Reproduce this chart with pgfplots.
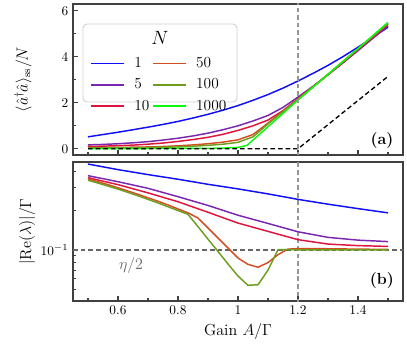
\documentclass[border=0pt]{standalone}
\usepackage{pgfplots}
\pgfplotsset{compat=1.18}
\definecolor{cA}{RGB}{15,15,250}
\definecolor{cB}{RGB}{122,38,176}
\definecolor{cC}{RGB}{222,20,62}
\definecolor{cD}{RGB}{212,78,36}
\definecolor{cE}{RGB}{108,158,30}
\definecolor{cF}{RGB}{10,250,10}
\definecolor{frame}{RGB}{64,64,64}
\definecolor{vline}{RGB}{150,150,150}
\pgfplotsset{
  myax/.style={
    scale only axis, width=247.5pt,
    xmin=0.45, xmax=1.55,
    axis line style={draw=frame, line width=1pt},
    tick align=inside, xtick pos=lower, ytick pos=left,
    xtick={0.6,0.8,1,1.2,1.4},
    minor xtick={0.5,0.7,0.9,1.1,1.3,1.5},
    major tick length=4pt, minor tick length=2.5pt,
    every tick/.style={frame, line width=0.8pt},
    tick label style={font=\fontsize{10.2}{12}\selectfont},
    label style={font=\fontsize{12}{14}\selectfont},
  }
}
\begin{document}
\begin{tikzpicture}
\draw[rounded corners=3pt, draw=black!18, fill=white, line width=0.7pt] (62.25pt,183pt) rectangle (177.75pt,241.5pt);
\node at (120pt,231pt) {\fontsize{14}{16}\selectfont $N$};
\begin{axis}[myax, height=113.25pt,
  at={(54.75pt,143.25pt)}, anchor=south west,
  ymin=-0.27, ymax=6.3,
  ytick={0,2,4,6}, minor ytick={1,3,5},
  xticklabels={},
  ylabel={$\langle\hat a^{\dagger}\hat a\rangle_{\mathrm{ss}}/N$},
  ylabel style={at={(axis description cs:-0.1515,0.5)}, anchor=center},
  legend columns=2, legend cell align=left,
  legend image code/.code={\draw[#1] (0pt,0pt) -- (24.75pt,0pt); \path (30pt,0pt);},
  legend style={at={(axis description cs:0.0394,0.683)}, anchor=north west,
    draw=none, fill=none, row sep=2.8pt,
    font=\fontsize{11.5}{13}\selectfont},
]
\addlegendimage{cA, line width=1.1pt}
\addlegendentry{1}
\addlegendimage{cD, line width=1.1pt}
\addlegendentry{50}
\addlegendimage{cB, line width=1.1pt}
\addlegendentry{5}
\addlegendimage{cE, line width=1.1pt}
\addlegendentry{100}
\addlegendimage{cC, line width=1.1pt}
\addlegendentry{10}
\addlegendimage{cF, line width=1.1pt}
\addlegendentry{1000}
\addplot[cA, line width=1.1pt, forget plot] coordinates {(0.5,0.52)(0.55,0.62)(0.6,0.72)(0.65,0.83)(0.7,0.94)(0.75,1.06)(0.8,1.19)(0.85,1.34)(0.9,1.5)(0.95,1.68)(1.0,1.88)(1.05,2.11)(1.1,2.36)(1.15,2.64)(1.2,2.95)(1.25,3.28)(1.3,3.63)(1.35,4.01)(1.4,4.42)(1.45,4.85)(1.5,5.29)};
\addplot[cB, line width=1.1pt, forget plot] coordinates {(0.5,0.17)(0.55,0.19)(0.6,0.22)(0.65,0.26)(0.7,0.31)(0.75,0.38)(0.8,0.46)(0.85,0.56)(0.9,0.68)(0.95,0.83)(1.0,1.0)(1.05,1.21)(1.1,1.45)(1.15,1.8)(1.2,2.25)(1.25,2.72)(1.3,3.22)(1.35,3.74)(1.4,4.27)(1.45,4.81)(1.5,5.35)};
\addplot[cC, line width=1.1pt, forget plot] coordinates {(0.5,0.1)(0.55,0.115)(0.6,0.135)(0.65,0.16)(0.7,0.2)(0.75,0.25)(0.8,0.32)(0.85,0.4)(0.9,0.5)(0.95,0.63)(1.0,0.8)(1.05,1.0)(1.1,1.25)(1.15,1.66)(1.2,2.18)(1.25,2.7)(1.3,3.22)(1.35,3.76)(1.4,4.31)(1.45,4.86)(1.5,5.41)};
\addplot[cD, line width=1.1pt, forget plot] coordinates {(0.5,0.05)(0.55,0.055)(0.6,0.06)(0.65,0.07)(0.7,0.08)(0.75,0.1)(0.8,0.13)(0.85,0.17)(0.9,0.22)(0.95,0.29)(1.0,0.39)(1.05,0.62)(1.1,1.12)(1.15,1.64)(1.2,2.16)(1.25,2.7)(1.3,3.24)(1.35,3.79)(1.4,4.34)(1.45,4.89)(1.5,5.44)};
\addplot[cE, line width=1.1pt, forget plot] coordinates {(0.5,0.03)(0.55,0.035)(0.6,0.04)(0.65,0.045)(0.7,0.055)(0.75,0.065)(0.8,0.08)(0.85,0.11)(0.9,0.15)(0.95,0.2)(1.0,0.28)(1.05,0.52)(1.1,1.08)(1.15,1.61)(1.2,2.14)(1.25,2.69)(1.3,3.24)(1.35,3.8)(1.4,4.35)(1.45,4.91)(1.5,5.47)};
\addplot[cF, line width=1.1pt, forget plot] coordinates {(0.5,0.01)(0.6,0.01)(0.7,0.012)(0.8,0.015)(0.9,0.02)(0.95,0.03)(1.0,0.06)(1.03,0.15)(1.05,0.38)(1.1,0.96)(1.15,1.54)(1.2,2.12)(1.25,2.68)(1.3,3.24)(1.35,3.8)(1.4,4.36)(1.45,4.93)(1.5,5.5)};
\addplot[black, line width=1pt, dash pattern=on 3.5pt off 2.2pt, forget plot] coordinates {(0.5,0)(1.2,0)(1.5,3.15)};
\addplot[vline, line width=0.85pt, dash pattern=on 3.5pt off 2.2pt, forget plot] coordinates {(1.2,-1)(1.2,7)};
\node[font=\fontsize{12}{14}\selectfont\bfseries] at (rel axis cs:0.936,0.093) {(a)};
\end{axis}
\begin{axis}[myax, height=104.25pt,
  at={(54.75pt,33.75pt)}, anchor=south west,
  ymode=log, ymin=0.0405, ymax=0.475,
  ytick={0.1}, yticklabels={$10^{-1}$},
  minor ytick={0.05,0.06,0.07,0.08,0.09,0.2,0.3,0.4},
  xlabel={Gain $A/\Gamma$},
  xlabel style={at={(axis description cs:0.5,-0.216)}, anchor=center},
  ylabel={$|\mathrm{Re}(\lambda)|/\Gamma$},
  ylabel style={at={(axis description cs:-0.139,0.5)}, anchor=center},
  every axis plot/.append style={line width=1.1pt},
]
\addplot[black!60, line width=0.9pt, dash pattern=on 3.5pt off 2.2pt] coordinates {(0.4,0.1)(1.6,0.1)};
\addplot[vline, line width=0.85pt, dash pattern=on 3.5pt off 2.2pt] coordinates {(1.2,0.01)(1.2,1)};
\addplot[cA] coordinates {(0.5,0.458)(0.6,0.415)(0.7,0.38)(0.8,0.35)(0.9,0.32)(1.0,0.295)(1.1,0.27)(1.2,0.245)(1.3,0.225)(1.4,0.208)(1.5,0.193)};
\addplot[cB] coordinates {(0.5,0.373)(0.6,0.335)(0.7,0.298)(0.8,0.257)(0.9,0.22)(1.0,0.185)(1.1,0.16)(1.2,0.138)(1.3,0.125)(1.4,0.119)(1.5,0.116)};
\addplot[cC] coordinates {(0.5,0.36)(0.6,0.318)(0.7,0.275)(0.8,0.235)(0.9,0.195)(1.0,0.161)(1.1,0.139)(1.2,0.12)(1.3,0.111)(1.4,0.108)(1.5,0.1065)};
\addplot[cD] coordinates {(0.5,0.352)(0.5333,0.335)(0.5667,0.318)(0.6,0.301)(0.6333,0.284)(0.6667,0.268)(0.7,0.252)(0.7333,0.237)(0.7667,0.222)(0.8,0.207)(0.8333,0.193)(0.8667,0.176)(0.9,0.1476)(0.9333,0.1236)(0.9667,0.1035)(1.0,0.0867)(1.0333,0.0775)(1.0667,0.0736)(1.1,0.08)(1.1333,0.092)(1.1667,0.1015)(1.2,0.1025)(1.3,0.1022)(1.4,0.1015)(1.5,0.101)};
\addplot[cE] coordinates {(0.5,0.344)(0.5333,0.327)(0.5667,0.31)(0.6,0.294)(0.6333,0.277)(0.6667,0.261)(0.7,0.245)(0.7333,0.23)(0.7667,0.215)(0.8,0.201)(0.8333,0.188)(0.8667,0.151)(0.9,0.121)(0.9333,0.0975)(0.9667,0.078)(1.0,0.063)(1.0333,0.0535)(1.0667,0.054)(1.1,0.07)(1.1333,0.1005)(1.1667,0.1005)(1.2,0.1003)(1.3,0.1002)(1.4,0.1001)(1.5,0.1)};
\node[text=black!60, font=\fontsize{12}{14}\selectfont] at (rel axis cs:0.176,0.252) {$\eta/2$};
\node[font=\fontsize{12}{14}\selectfont\bfseries] at (rel axis cs:0.936,0.144) {(b)};
\end{axis}
\pgfresetboundingbox
\path[use as bounding box] (0,0) rectangle (305.25pt,259.5pt);
\end{tikzpicture}
\end{document}
